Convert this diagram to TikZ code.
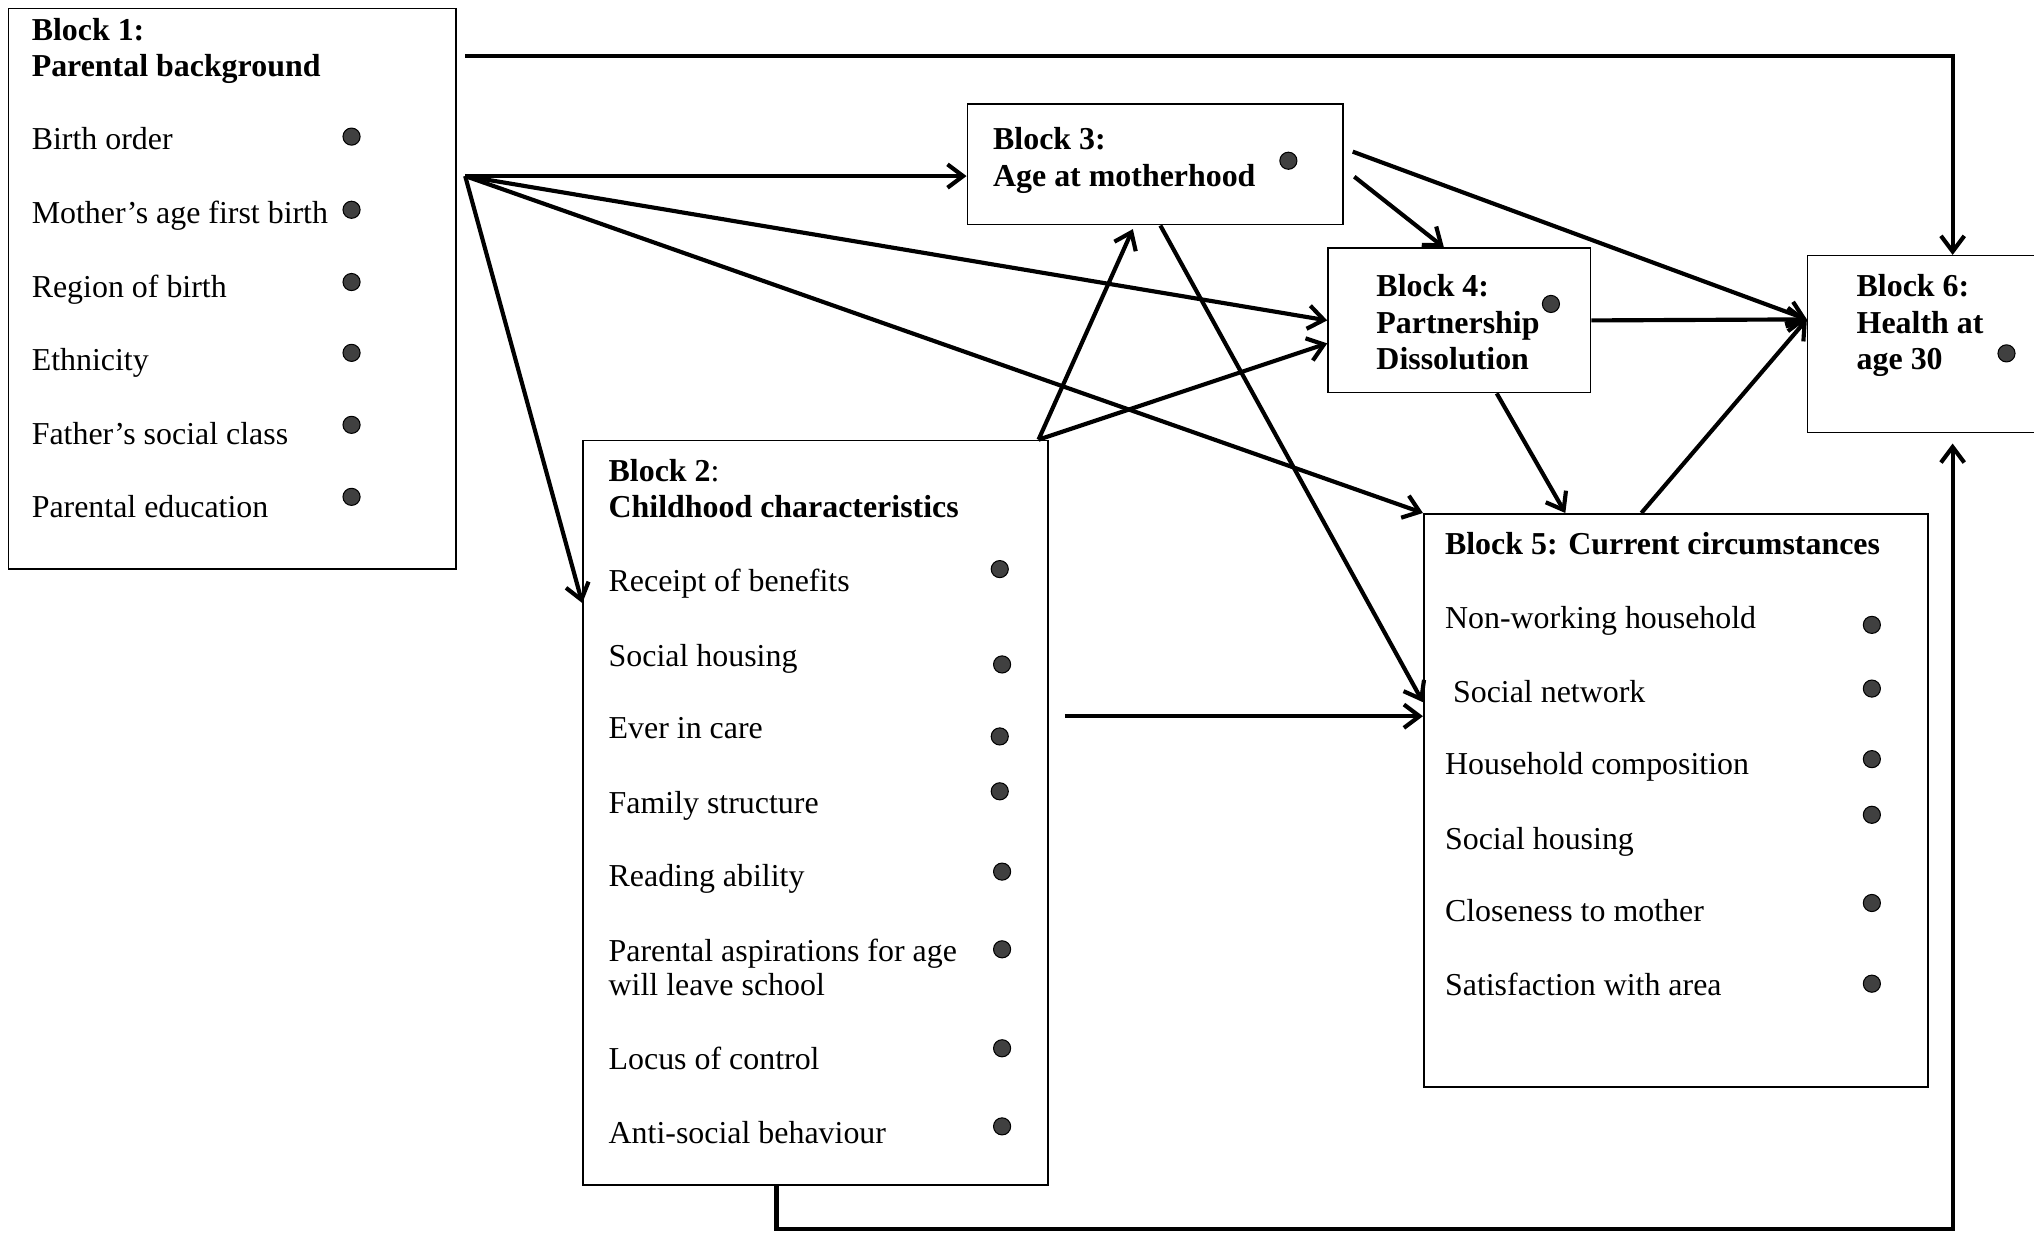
\documentclass[tikz,border=0pt]{standalone}
\usepackage{fontspec}
\setmainfont{Liberation Serif}
\usepackage{xcolor}
\usepackage{tikz}
\usetikzlibrary{arrows.meta}

\begin{document}
\begin{tikzpicture}[x=0.5pt,y=-0.5pt,
		font=\fontsize{12.3}{14}\selectfont,
		blockbox/.style={draw,line width=0.6pt,inner sep=0pt},
		itemtxt/.style={anchor=base west,inner sep=0pt},
		conn/.style={line width=1.6pt,-{Straight Barb[length=6pt,width=9pt]}}]
				% 颜色列表
				\definecolor{mydot}{RGB}{64,64,64}
				% 画布范围
				\useasboundingbox (0,0) rectangle (1568,950);
				\clip (0,0) rectangle (1568,950);
				
				% 六个方框
				\node[blockbox,minimum width=172.5pt,minimum height=216pt] (b1) at (179,222.5) {};
				\node[blockbox,minimum width=179.25pt,minimum height=287pt] (b2) at (628.75,626.5) {};
				\node[blockbox,minimum width=144.9pt,minimum height=46.5pt] (b3) at (890.6,126.7) {};
				\node[blockbox,minimum width=101.25pt,minimum height=55.65pt] (b4) at (1125,247) {};
				\node[blockbox,minimum width=194.45pt,minimum height=220.85pt] (b5) at (1292,616.9) {};
				\node[blockbox,minimum width=111.75pt,minimum height=68.1pt] (b6) at (1505.25,265.2) {};
				
				% 方框一
				\node[itemtxt] (t1a) at (24.1,31) {\textbf{Block 1:}};
				\node[itemtxt] (t1b) at (24.1,59) {\textbf{Parental background}};
				\foreach \txt [count=\i] in {Birth order,Mother’s age first birth,Region of birth,Ethnicity,Father’s social class,Parental education}
				\node[itemtxt] (i1-\i) at (24.1,{115.6+56.7*(\i-1)}) {\txt};
				
				\foreach \y in {105.3,161.7,217.4,272,327.5,383}
				\filldraw[fill=mydot,draw=black,line width=0.4pt] (271,\y) circle (3.3pt);
				
				% 方框二
				\node[itemtxt] (t2a) at (468.8,370.8) {\textbf{Block 2}:};
				\node[itemtxt] (t2b) at (468.8,398.9) {\textbf{Childhood characteristics}};
				\foreach \y/\txt [count=\i] in {456.3/Receipt of benefits,513.4/Social housing,569.3/Ever in care,627.2/Family structure,683.1/Reading ability,741/Parental aspirations for age,767.7/will leave school,824.8/Locus of control,881.5/Anti-social behaviour}
				\node[itemtxt] (i2-\i) at (468.8,\y) {\txt};
				
				\foreach \x/\y in {770.7/438.7,772.5/512.2,770.7/567.7,770.7/610,772.5/671.9,772.5/731.8,772.5/808.1,772.5/868.3}
				\filldraw[fill=mydot,draw=black,line width=0.4pt] (\x,\y) circle (3.3pt);
				
				% 方框三、四、六
				\node[itemtxt] (t3a) at (765.2,115.1) {\textbf{Block 3:}};
				\node[itemtxt] (t3b) at (765.2,143.4) {\textbf{Age at motherhood}};
				\node[itemtxt] (t4a) at (1060.7,228.2) {\textbf{Block 4:}};
				\node[itemtxt] (t4b) at (1060.7,257) {\textbf{Partnership}};
				\node[itemtxt] (t4c) at (1060.7,285.2) {\textbf{Dissolution}};
				\node[itemtxt] (t6a) at (1430.9,228.2) {\textbf{Block 6:}};
				\node[itemtxt] (t6b) at (1430.9,257) {\textbf{Health at}};
				\node[itemtxt] (t6c) at (1430.9,285.2) {\textbf{age 30}};
				
				\foreach \x/\y in {993.2/123.9,1195.6/234.3,1546.8/272.4}
				\filldraw[fill=mydot,draw=black,line width=0.4pt] (\x,\y) circle (3.3pt);
				
				% 方框五
				\node[itemtxt] (t5a) at (1113.6,427.3) {\textbf{Block 5: Current circumstances}};
				\foreach \y/\txt [count=\i] in {484.7/Non-working household,541.2/\ Social network,596.7/Household composition,654.7/Social housing,710.2/Closeness to mother,767.5/Satisfaction with area}
				\node[itemtxt] (i5-\i) at (1113.6,\y) {\txt};
				
				\foreach \y in {481.7,530.8,585.2,628.1,696.1,758.3}
				\filldraw[fill=mydot,draw=black,line width=0.4pt] (1443,\y) circle (3.3pt);
				
				% 连接线
				\coordinate (b1top) at ([xshift=3.25pt,yshift=-18.6pt]b1.north east);
				\coordinate (b1fan) at ([xshift=3.25pt,yshift=-64.9pt]b1.north east);
				\coordinate (b2fan) at ([xshift=-4pt]b2.north east);
				\coordinate (b2out) at ([xshift=6.15pt,yshift=37.2pt]b2.east);
				\coordinate (b6in) at ([yshift=9.5pt]b6.west);
				
				\draw[conn] (b1top) -| (b6.north);
				\draw[conn] (b1fan) -- (b3.west |- b1fan);
				\draw[conn] (b1fan) -- (b4.west);
				\draw[conn] (b1fan) -- (b5.north west);
				\draw[conn] (b1fan) -- ([yshift=-63pt]b2.north west);
				\draw[conn] (b2fan) -- ([xshift=-8.65pt,yshift=-1.4pt]b3.south);
				\draw[conn] (b2fan) -- ([yshift=-8.85pt]b4.west);
				\draw[conn] ([xshift=1.95pt]b3.south) -- ([yshift=37.8pt]b5.west);
				\draw[conn] ([xshift=3.35pt,yshift=4.9pt]b3.east) -- (b6in);
				\draw[conn] ([xshift=3.95pt,yshift=-4.75pt]b3.east) -- ([xshift=-5.95pt]b4.north);
				\draw[conn] (b4.east) -- (b6in);
				\draw[conn] ([xshift=14.4pt]b4.south) -- ([xshift=-42.65pt]b5.north);
				\draw[conn] ([xshift=-13.35pt]b5.north) -- (b6in);
				\draw[conn] (b2out) -- (b5.west |- b2out);
				\draw[conn,shorten >=4pt] ([xshift=-15.1pt]b2.south) -- ++(0,33.5) -| (b6.south);
				
			\end{tikzpicture}
\end{document}
